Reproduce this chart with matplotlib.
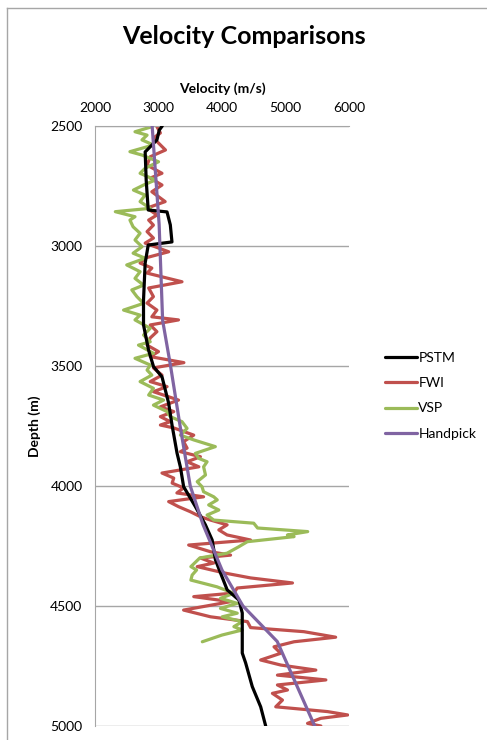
import matplotlib
matplotlib.use("Agg")
import matplotlib.pyplot as plt
from matplotlib.lines import Line2D

plt.rcParams['font.family'] = ['Lato', 'DejaVu Sans']

# depth (m) / velocity (m/s)
pstm_depth = [2500, 2517, 2558, 2608, 2725, 2850, 2858, 2912, 2983, 2996, 3071, 3225,
              3329, 3433, 3503, 3545, 3654, 3746, 3863, 3920, 4003, 4086, 4162, 4225,
              4308, 4362, 4433, 4475, 4529, 4696, 4737, 4836, 4920, 5000]
pstm_vel = [3059, 3012, 2975, 2790, 2806, 2838, 3134, 3186, 3212, 2838, 2790, 2764,
            2764, 2843, 2922, 3055, 3159, 3213, 3292, 3344, 3396, 3581, 3739, 3845,
            3897, 3976, 4082, 4266, 4319, 4319, 4372, 4477, 4609, 4688]

fwi_depth = [2503, 2529, 2550, 2600, 2628, 2663, 2697, 2717, 2746, 2774, 2815, 2842,
             2871, 2892, 2913, 2940, 2967, 2988, 3024, 3050, 3071, 3092, 3113, 3149,
             3175, 3211, 3238, 3267, 3295, 3308, 3329, 3357, 3383, 3413, 3440, 3461,
             3486, 3508, 3538, 3565, 3586, 3607, 3642, 3670, 3690, 3711, 3732, 3746,
             3758, 3788, 3815, 3842, 3857, 3878, 3899, 3920, 3946, 3967, 3988, 4008,
             4029, 4045, 4065, 4086, 4107, 4128, 4142, 4162, 4183, 4204, 4225, 4246,
             4274, 4288, 4300, 4321, 4336, 4362, 4383, 4404, 4425, 4446, 4461, 4482,
             4517, 4545, 4565, 4590, 4607, 4630, 4649, 4670, 4697, 4725, 4746, 4767,
             4788, 4808, 4829, 4850, 4864, 4892, 4920, 4940, 4954, 4968, 4989, 5000]
fwi_vel = [2975, 3030, 2920, 3110, 2870, 2820, 3055, 2870, 3055, 2895, 3105, 2820,
           2975, 2845, 2920, 2820, 2920, 2790, 3160, 2790, 2710, 2895, 2820, 3370,
           2845, 2920, 2820, 2975, 2895, 3315, 2870, 2975, 2870, 2820, 3000, 2870,
           3400, 2920, 3055, 2870, 3135, 2920, 3315, 3030, 3240, 3030, 3185, 3030,
           3240, 3555, 3395, 3450, 3345, 3660, 3450, 3635, 3055, 3240, 3215, 3395,
           3290, 3710, 3160, 3315, 3500, 3660, 3820, 4080, 3950, 4080, 4450, 3475,
           3820, 4135, 3660, 3870, 3610, 4030, 4450, 5110, 4240, 4185, 3555, 4135,
           3395, 3820, 4400, 4450, 5290, 5790, 5135, 4819, 4925, 4609, 4925, 5478,
           4873, 5636, 4873, 5031, 4794, 4952, 4846, 5663, 5980, 5557, 5347, 5557]

vsp_depth = [2503, 2524, 2538, 2558, 2579, 2607, 2621, 2649, 2676, 2697, 2725, 2746,
             2767, 2788, 2815, 2843, 2857, 2878, 2892, 2920, 2947, 2975, 3003, 3030,
             3051, 3079, 3107, 3135, 3163, 3183, 3211, 3239, 3267, 3288, 3308, 3343,
             3371, 3399, 3413, 3447, 3468, 3496, 3517, 3538, 3565, 3593, 3621, 3642,
             3663, 3690, 3711, 3732, 3760, 3788, 3808, 3836, 3864, 3885, 3899, 3920,
             3954, 3982, 4003, 4024, 4045, 4058, 4079, 4100, 4121, 4142, 4155, 4175,
             4190, 4204, 4211, 4232, 4253, 4280, 4300, 4336, 4350, 4371, 4392, 4420,
             4447, 4468, 4489, 4510, 4530, 4545, 4565, 4586, 4600, 4621, 4649]
vsp_vel = [2895, 2630, 2820, 2740, 2920, 2550, 2740, 3000, 2790, 2710, 2950, 2765,
           2605, 2790, 2710, 2870, 2320, 2630, 2550, 2600, 2710, 2630, 2740, 2600,
           2790, 2500, 2710, 2630, 2765, 2580, 2660, 2765, 2450, 2710, 2630, 2870,
           2765, 2870, 2685, 2920, 2630, 2870, 2820, 2895, 2710, 2920, 2845, 3080,
           2920, 3135, 3185, 3370, 3450, 3345, 3555, 3895, 3580, 3635, 3765, 3710,
           3740, 3610, 3685, 3710, 3870, 3925, 3790, 3950, 3765, 3870, 4500, 4560,
           5350, 5030, 5135, 4400, 4265, 4080, 3650, 3510, 3600, 3530, 3510, 3920,
           4185, 3976, 4240, 3976, 4240, 4003, 4320, 4187, 4319, 4000, 3690]

hand_depth = [2500, 2910, 3310, 3500, 3750, 4000, 4160, 4350, 4500, 4648, 5000]
hand_vel = [2900, 3010, 3065, 3190, 3340, 3500, 3700, 4000, 4330, 4870, 5460]

series = ["PSTM", "FWI", "VSP", "Handpick"]
colors = ["black", "#C0504D", "#9BBB59", "#8064A2"]
vel_ticks = [2000, 3000, 4000, 5000, 6000]
depth_ticks = [2500, 3000, 3500, 4000, 4500, 5000]

fig = plt.figure(figsize=(4.87, 7.40), dpi=100)
ax = fig.add_axes([95/487, 1 - 726/740, 254/487, 600/740])

line_kw = dict(lw=2.3, solid_joinstyle='round', solid_capstyle='round')
ax.plot(pstm_vel, pstm_depth, color=colors[0], label=series[0], zorder=3, **line_kw)
ax.plot(fwi_vel, fwi_depth, color=colors[1], label=series[1], zorder=2, **line_kw)
ax.plot(vsp_vel, vsp_depth, color=colors[2], label=series[2], zorder=2.5, **line_kw)
ax.plot(hand_vel, hand_depth, color=colors[3], label=series[3], zorder=4, **line_kw)

ax.set_xlim(2000, 6000)
ax.set_ylim(5000, 2500)
ax.set_xticks(vel_ticks)
ax.set_yticks(depth_ticks)
ax.xaxis.tick_top()
ax.xaxis.set_label_position('top')
ax.tick_params(length=0, labelsize=10, pad=9)
ax.yaxis.grid(True, color='#A6A6A6', lw=1)
ax.set_axisbelow(True)
for s in ['right', 'bottom']:
    ax.spines[s].set_visible(False)
for s in ['top', 'left']:
    ax.spines[s].set_color('#A6A6A6')

ax.set_xlabel("Velocity (m/s)", fontsize=10, fontweight='bold', labelpad=6)
ax.set_ylabel("Depth (m)", fontsize=10, fontweight='bold', labelpad=7)
fig.text(0.5, 1 - 37/740, "Velocity Comparisons", fontsize=18, fontweight='bold',
         ha='center', va='center')

fig.legend(loc='upper left', bbox_to_anchor=(385/487, 1 - 352/740), frameon=False,
           fontsize=10, handlelength=2.3, handletextpad=0.1, labelspacing=0.95,
           borderpad=0, borderaxespad=0)

# outer chart border
fig.add_artist(Line2D([7/487, 7/487], [0, 1 - 8/740], color='#A6A6A6', lw=1))
fig.add_artist(Line2D([7/487, 1], [1 - 8/740, 1 - 8/740], color='#A6A6A6', lw=1))

fig.savefig("out.png", dpi=100)
